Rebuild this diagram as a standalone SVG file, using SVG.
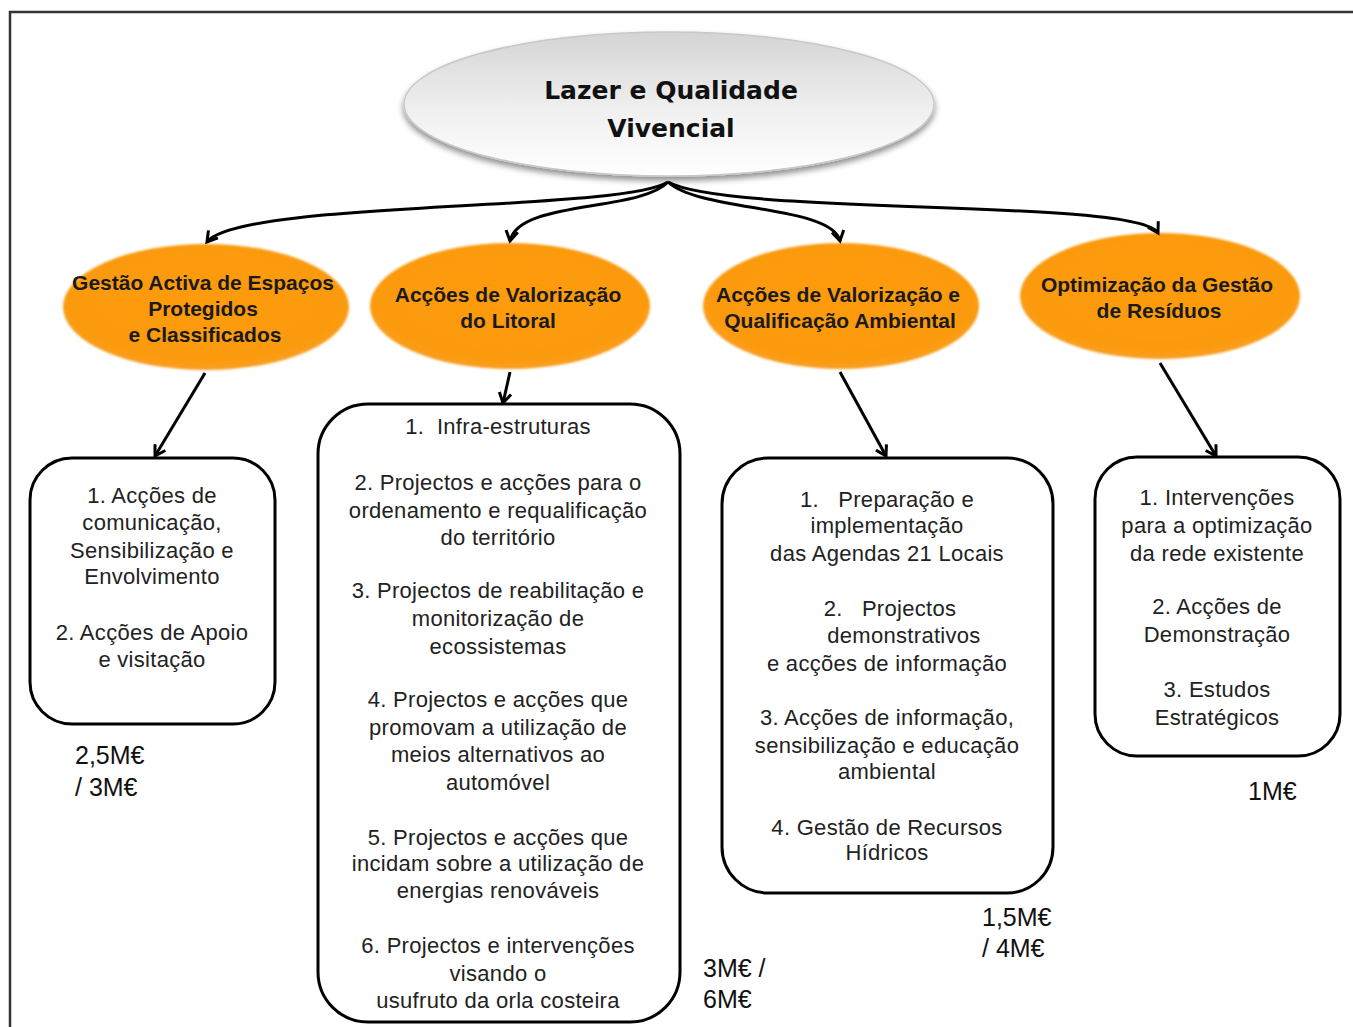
<svg xmlns="http://www.w3.org/2000/svg" width="1353" height="1027" viewBox="0 0 1353 1027">
<defs>
<linearGradient id="gTop" x1="0" y1="0" x2="0" y2="1">
<stop offset="0" stop-color="#d4d4d4"/>
<stop offset="0.55" stop-color="#f0f0f0"/>
<stop offset="1" stop-color="#ffffff"/>
</linearGradient>
<radialGradient id="gOr" cx="0.5" cy="0.45" r="0.6">
<stop offset="0" stop-color="#ff9c0a"/>
<stop offset="0.8" stop-color="#fb9a0c"/>
<stop offset="1" stop-color="#f7a23a"/>
</radialGradient>
<filter id="shadow" x="-10%" y="-20%" width="120%" height="150%">
<feGaussianBlur in="SourceAlpha" stdDeviation="3"/>
<feOffset dx="0" dy="4" result="b"/>
<feComponentTransfer><feFuncA type="linear" slope="0.45"/></feComponentTransfer>
<feMerge><feMergeNode/><feMergeNode in="SourceGraphic"/></feMerge>
</filter>
<filter id="soft" x="-10%" y="-10%" width="120%" height="120%">
<feGaussianBlur stdDeviation="1.2"/>
</filter>
<marker id="arr" markerWidth="16" markerHeight="16" refX="12" refY="8" orient="auto" markerUnits="userSpaceOnUse">
<path d="M2,2 L12,8 L2,14" fill="none" stroke="#000" stroke-width="3" stroke-linejoin="miter"/>
</marker>
<style>
.con{fill:none;stroke:#000;stroke-width:3;marker-end:url(#arr)}
.box{fill:#fff;stroke:#000;stroke-width:3}
.bt{font-family:"Liberation Sans",Arial,sans-serif;font-size:22px;letter-spacing:0.3px;fill:#222;text-anchor:middle;white-space:pre}
.ot{font-family:"Liberation Sans",Arial,sans-serif;font-size:21px;font-weight:bold;fill:#1a1a1a;text-anchor:middle}
.tt{font-family:"DejaVu Sans",Verdana,sans-serif;font-size:25px;font-weight:bold;fill:#111;text-anchor:middle}
.mt{font-family:"Liberation Sans",Arial,sans-serif;font-size:25px;fill:#111}
.orn{fill:url(#gOr);filter:url(#soft)}
</style>
</defs>
<rect x="0" y="0" width="1353" height="1027" fill="#fff"/>
<path d="M10,1027 L10,12 L1353,12" fill="none" stroke="#333" stroke-width="2.5"/>

<g id="top">
<ellipse cx="669" cy="104" rx="265" ry="72" fill="url(#gTop)" stroke="#c8c8c8" stroke-width="1.5" filter="url(#shadow)"/>
<text class="tt" x="671" y="99">Lazer e Qualidade</text>
<text class="tt" x="671" y="137">Vivencial</text>
</g>

<g id="o1">
<ellipse class="orn" cx="206" cy="307" rx="143" ry="63"/>
<text class="ot" x="203" y="290">Gestão Activa de Espaços</text>
<text class="ot" x="203" y="316">Protegidos</text>
<text class="ot" x="205" y="342">e Classificados</text>
</g>
<g id="o2">
<ellipse class="orn" cx="510" cy="306" rx="140" ry="63"/>
<text class="ot" x="508" y="302">Acções de Valorização</text>
<text class="ot" x="508" y="328">do Litoral</text>
</g>
<g id="o3">
<ellipse class="orn" cx="841" cy="306" rx="138" ry="63"/>
<text class="ot" x="838" y="302">Acções de Valorização e</text>
<text class="ot" x="840" y="328">Qualificação Ambiental</text>
</g>
<g id="o4">
<ellipse class="orn" cx="1160" cy="296" rx="140" ry="63"/>
<text class="ot" x="1157" y="292">Optimização da Gestão</text>
<text class="ot" x="1159" y="318">de Resíduos</text>
</g>

<g id="connectors">
<path class="con" d="M668,182 C620,212 240,200 207,242"/>
<path class="con" d="M668,182 C640,212 518,200 510,241"/>
<path class="con" d="M668,182 C700,212 832,205 840,241"/>
<path class="con" d="M668,182 C730,216 1138,198 1158,233"/>
<path class="con" d="M205,373 L155,456"/>
<path class="con" d="M510,372 L503,403"/>
<path class="con" d="M840,372 L886,456"/>
<path class="con" d="M1160,363 L1216,456"/>
</g>

<g id="b1">
<rect class="box" x="30" y="458" width="245" height="266" rx="42" ry="42"/>
<text class="bt" x="152" y="503">1. Acções de</text>
<text class="bt" x="152" y="530">comunicação,</text>
<text class="bt" x="152" y="558">Sensibilização e</text>
<text class="bt" x="152" y="584">Envolvimento</text>
<text class="bt" x="152" y="640">2. Acções de Apoio</text>
<text class="bt" x="152" y="667">e visitação</text>
</g>
<g id="b2">
<rect class="box" x="318" y="404" width="362" height="618" rx="50" ry="50"/>
<text class="bt" x="498" y="434">1.  Infra-estruturas</text>
<text class="bt" x="498" y="490">2. Projectos e acções para o</text>
<text class="bt" x="498" y="518">ordenamento e requalificação</text>
<text class="bt" x="498" y="545">do território</text>
<text class="bt" x="498" y="598">3. Projectos de reabilitação e</text>
<text class="bt" x="498" y="626">monitorização de</text>
<text class="bt" x="498" y="654">ecossistemas</text>
<text class="bt" x="498" y="707">4. Projectos e acções que</text>
<text class="bt" x="498" y="735">promovam a utilização de</text>
<text class="bt" x="498" y="762">meios alternativos ao</text>
<text class="bt" x="498" y="790">automóvel</text>
<text class="bt" x="498" y="845">5. Projectos e acções que</text>
<text class="bt" x="498" y="871">incidam sobre a utilização de</text>
<text class="bt" x="498" y="898">energias renováveis</text>
<text class="bt" x="498" y="953">6. Projectos e intervenções</text>
<text class="bt" x="498" y="981">visando o</text>
<text class="bt" x="498" y="1008">usufruto da orla costeira</text>
</g>
<g id="b3">
<rect class="box" x="722" y="458" width="331" height="435" rx="46" ry="46"/>
<text class="bt" x="887" y="507">1.   Preparação e</text>
<text class="bt" x="887" y="533">implementação</text>
<text class="bt" x="887" y="561">das Agendas 21 Locais</text>
<text class="bt" x="890" y="616">2.   Projectos</text>
<text class="bt" x="904" y="643">demonstrativos</text>
<text class="bt" x="887" y="671">e acções de informação</text>
<text class="bt" x="887" y="725">3. Acções de informação,</text>
<text class="bt" x="887" y="753">sensibilização e educação</text>
<text class="bt" x="887" y="779">ambiental</text>
<text class="bt" x="887" y="835">4. Gestão de Recursos</text>
<text class="bt" x="887" y="860">Hídricos</text>
</g>
<g id="b4">
<rect class="box" x="1095" y="457" width="245" height="299" rx="42" ry="42"/>
<text class="bt" x="1217" y="505">1. Intervenções</text>
<text class="bt" x="1217" y="533">para a optimização</text>
<text class="bt" x="1217" y="561">da rede existente</text>
<text class="bt" x="1217" y="614">2. Acções de</text>
<text class="bt" x="1217" y="642">Demonstração</text>
<text class="bt" x="1217" y="697">3. Estudos</text>
<text class="bt" x="1217" y="725">Estratégicos</text>
</g>

<g id="amounts">
<text class="mt" x="75" y="764">2,5M€</text>
<text class="mt" x="75" y="796">/ 3M€</text>
<text class="mt" x="703" y="977">3M€ /</text>
<text class="mt" x="703" y="1008">6M€</text>
<text class="mt" x="982" y="926">1,5M€</text>
<text class="mt" x="982" y="957">/ 4M€</text>
<text class="mt" x="1248" y="800">1M€</text>
</g>
</svg>
